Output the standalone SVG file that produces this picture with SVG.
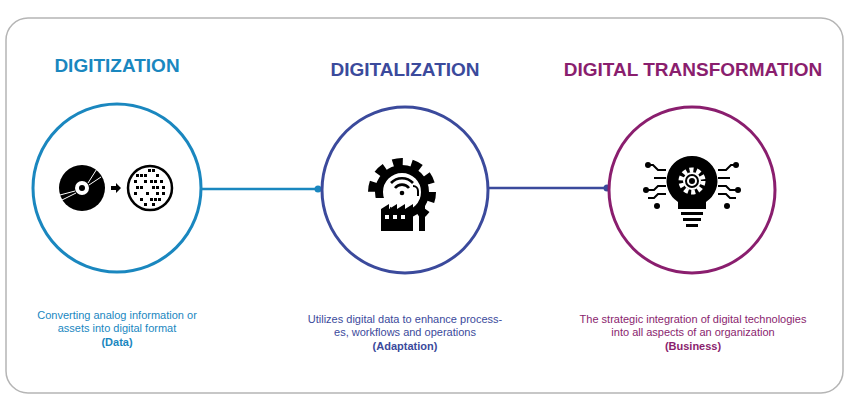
<svg xmlns="http://www.w3.org/2000/svg" width="849" height="412" viewBox="0 0 849 412">
<style>
.t{font-family:"Liberation Sans",Arial,sans-serif;font-weight:bold;font-size:19px;text-anchor:middle}
.d{font-family:"Liberation Sans",Arial,sans-serif;font-size:11px;text-anchor:middle}
.b{font-weight:bold}
.ring{fill:#fff;stroke-width:3}
</style>
<rect x="6" y="18" width="837" height="375" rx="22" fill="#fff" stroke="#b5b5b5" stroke-width="1.5"/>
<g id="connectors">
<line x1="202" y1="189" x2="318" y2="189" stroke="#1a87bf" stroke-width="2.5"/>
<circle cx="318" cy="189" r="3.5" fill="#1a87bf"/>
<line x1="488" y1="188" x2="607" y2="188" stroke="#3b4a9c" stroke-width="2.5"/>
<circle cx="607" cy="188" r="3.5" fill="#3b4a9c"/>
</g>
<g id="digitization">
<text class="t" x="117" y="72" fill="#1a87bf">DIGITIZATION</text>
<circle class="ring" cx="117" cy="188" r="84" stroke="#1a87bf"/>
<circle cx="82" cy="188" r="23" fill="#000"/>
<circle cx="82" cy="188" r="7" fill="#fff"/>
<circle cx="82" cy="188" r="3" fill="#000"/>
<path d="M88 183 L100 164 M89 185 L101 177 M76 193 L62 200 M75 191 L60 195" stroke="#fff" stroke-width="1"/>
<path d="M111 186 h5 v-3 l5 5 l-5 5 v-3 h-5z" fill="#000"/>
<circle cx="150" cy="188" r="22" fill="#fff" stroke="#000" stroke-width="2.5"/>
<g fill="#000">
<rect x="148" y="169" width="3" height="3"/><rect x="152" y="169" width="3" height="3"/>
<rect x="136" y="174" width="3" height="3"/><rect x="140" y="174" width="3" height="3"/><rect x="144" y="174" width="3" height="3"/><rect x="156" y="174" width="3" height="3"/>
<rect x="134" y="180" width="3" height="3"/><rect x="144" y="180" width="3" height="3"/><rect x="150" y="180" width="3" height="3"/><rect x="154" y="180" width="3" height="3"/><rect x="160" y="180" width="3" height="3"/>
<rect x="136" y="186" width="3" height="3"/><rect x="140" y="186" width="3" height="3"/><rect x="152" y="186" width="3" height="3"/><rect x="156" y="186" width="3" height="3"/><rect x="162" y="186" width="3" height="3"/>
<rect x="134" y="192" width="3" height="3"/><rect x="146" y="192" width="3" height="3"/><rect x="156" y="192" width="3" height="3"/><rect x="162" y="192" width="3" height="3"/>
<rect x="140" y="198" width="3" height="3"/><rect x="150" y="198" width="3" height="3"/><rect x="154" y="198" width="3" height="3"/><rect x="158" y="198" width="3" height="3"/>
<rect x="144" y="203" width="3" height="3"/><rect x="152" y="203" width="3" height="3"/>
</g>
<text class="d" x="117" y="319" fill="#1a87bf">Converting analog information or</text>
<text class="d" x="117" y="332" fill="#1a87bf">assets into digital format</text>
<text class="d b" x="117" y="346" fill="#1a87bf">(Data)</text>
</g>
<g id="digitalization">
<text class="t" x="405" y="76" fill="#3b4a9c">DIGITALIZATION</text>
<circle class="ring" cx="405" cy="190" r="83" stroke="#3b4a9c"/>
<circle cx="402" cy="192" r="30" fill="none" stroke="#000" stroke-width="8" stroke-dasharray="10 8.85"/>
<circle cx="402" cy="192" r="23" fill="none" stroke="#000" stroke-width="8"/>
<rect x="366" y="198" width="24" height="36" fill="#fff"/>
<path d="M391 183 a15 15 0 0 1 22 0 M395 188 a9 9 0 0 1 14 0" stroke="#000" stroke-width="2.6" fill="none"/>
<circle cx="402" cy="193" r="2.3" fill="#000"/>
<path d="M381 231 v-22 l8 -5 v5 l8 -5 v5 l8 -5 v5 l8 -5 v27z" fill="#000"/>
<rect x="419" y="200" width="6" height="31" fill="#000"/>
<path d="M418 196 v-5 a5 5 0 0 0 -5 -5" stroke="#000" stroke-width="2" fill="none"/>
<g fill="#fff"><rect x="385" y="215" width="4" height="4"/><rect x="393" y="215" width="4" height="4"/><rect x="401" y="215" width="4" height="4"/></g>
<text class="d" x="405" y="323" fill="#3b4a9c">Utilizes digital data to enhance process-</text>
<text class="d" x="405" y="336" fill="#3b4a9c">es, workflows and operations</text>
<text class="d b" x="405" y="350" fill="#3b4a9c">(Adaptation)</text>
</g>
<g id="transformation">
<text class="t" x="693" y="76" fill="#8a1e6e">DIGITAL TRANSFORMATION</text>
<circle class="ring" cx="692" cy="190" r="83" stroke="#8a1e6e"/>
<path d="M692 156 a25 25 0 0 1 14 46 v7 h-28 v-7 a25 25 0 0 1 14 -46z" fill="#000"/>
<rect x="681" y="212" width="22" height="3" fill="#000"/><rect x="683" y="218" width="18" height="3" fill="#000"/><rect x="686" y="224" width="12" height="3" fill="#000"/>
<circle cx="692" cy="181" r="11" fill="none" stroke="#fff" stroke-width="5" stroke-dasharray="4 3"/>
<circle cx="692" cy="181" r="8" fill="none" stroke="#fff" stroke-width="2"/>
<circle cx="692" cy="181" r="4" fill="none" stroke="#fff" stroke-width="2"/>
<g stroke="#000" stroke-width="2" fill="none">
<path d="M666 170 h-8 l-5 -5 h-5 M666 178 h-12 M666 186 h-8 l-4 4 h-8 M666 194 h-8 l-4 4 h-6"/>
<path d="M718 170 h8 l5 -5 h5 M718 178 h12 M718 186 h8 l4 4 h8 M718 194 h8 l4 4 h6"/>
</g>
<g fill="#000"><circle cx="648" cy="165" r="3"/><circle cx="646" cy="190" r="3"/><circle cx="736" cy="165" r="3"/><circle cx="738" cy="190" r="3"/><circle cx="657" cy="206" r="3"/><circle cx="727" cy="206" r="3"/></g>
<text class="d" x="693" y="323" fill="#8a1e6e">The strategic integration of digital technologies</text>
<text class="d" x="693" y="336" fill="#8a1e6e">into all aspects of an organization</text>
<text class="d b" x="693" y="350" fill="#8a1e6e">(Business)</text>
</g>
</svg>
